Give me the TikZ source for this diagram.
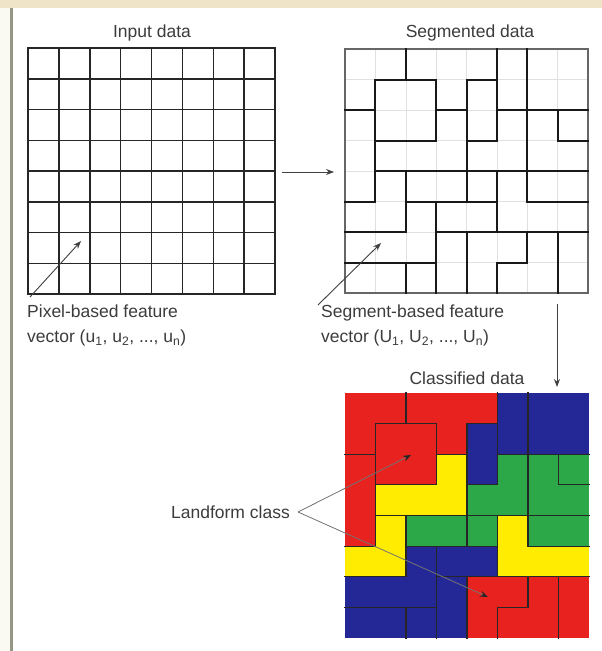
\documentclass[tikz,border=0pt]{standalone}
\usepackage{fontspec}
\setmainfont{Liberation Sans}
\usetikzlibrary{arrows.meta}
\definecolor{cR}{RGB}{232,34,30}
\definecolor{cB}{RGB}{36,40,150}
\definecolor{cG}{RGB}{44,168,72}
\definecolor{cY}{RGB}{255,236,0}
\definecolor{beige}{RGB}{239,228,199}
\definecolor{framegray}{RGB}{150,150,135}
\definecolor{cream}{RGB}{251,250,242}
\definecolor{txt}{RGB}{60,60,60}
\tikzset{
  lbl/.style={inner sep=0pt, text=txt, font=\fontsize{17.5}{25}\selectfont},
  gridline/.style={line width=1.5pt, draw=black!85, line cap=rect},
  segline/.style={line width=2pt, draw=black!90, line cap=rect},
  clsline/.style={line width=1.1pt, draw=black!85, line cap=rect},
  faint/.style={line width=0.5pt, draw=black!12},
  conn/.style={line width=0.9pt, draw=black!75, -{Stealth[length=8pt,width=6pt]}},
  leader/.style={line width=0.8pt, draw=black!55, -{Stealth[length=8pt,width=6pt,black!85]}},
}
\newcommand{\segmentlines}[1]{%
  \foreach \c/\a/\b in {2/0/1,1/1/5,3/1/3,4/1/5,5/0/3,6/0/5,7/2/3,2/4/6,3/5/8,5/4/6,4/6/8,6/6/7,5/7/8,7/6/8,2/7/8}
    {\draw[#1] (\c,\a) -- (\c,\b);}
  \foreach \r/\a/\b in {1/1/3,3/1/3,2/0/1,5/0/1,2/3/4,1/4/5,3/4/5,2/5/8,3/7/8,4/1/8,5/6/8,6/0/2,5/2/5,6/3/8,7/5/6,7/0/3}
    {\draw[#1] (\a,\r) -- (\b,\r);}
}
\begin{document}
\begin{tikzpicture}[x=1pt,y=-1pt]
\useasboundingbox (0,0) rectangle (602,651);
% frame
\fill[white] (0,0) rectangle (602,651);
\fill[cream] (0,7.5) rectangle (10,651);
\fill[beige] (0,0) rectangle (602,7.5);
\draw[framegray, line width=2.5pt] (11.5,7.5) -- (11.5,651);

% titles
\node[lbl] (tin) at (152,33) {Input data};
\node[lbl] (tseg) at (470,33) {Segmented data};
\node[lbl] (tcls) at (467,378) {Classified data};

% input grid
\begin{scope}[shift={(28pt,-48pt)}, x=30.875pt, y=-30.75pt]
  \foreach \i in {0,...,8} {
    \draw[gridline] (\i,0) -- (\i,8);
    \draw[gridline] (0,\i) -- (8,\i);
  }
\end{scope}

% segmented grid
\begin{scope}[shift={(345pt,-49pt)}, x=30.375pt, y=-30.5pt]
  \foreach \i in {1,...,7} {
    \draw[faint] (\i,0) -- (\i,8);
    \draw[faint] (0,\i) -- (8,\i);
  }
  \draw[line width=1.8pt, black!60] (0,0) rectangle (8,8);
  \segmentlines{segline}
\end{scope}

% classified grid
\begin{scope}[shift={(345pt,-393pt)}, x=30.5pt, y=-30.625pt]
  \foreach \row [count=\r from 0] in {
      {R,R,R,R,R,B,B,B},
      {R,R,R,R,B,B,B,B},
      {R,R,R,Y,B,G,G,G},
      {R,Y,Y,Y,G,G,G,G},
      {R,Y,G,G,G,Y,G,G},
      {Y,Y,B,B,B,Y,Y,Y},
      {B,B,B,B,R,R,R,R},
      {B,B,B,B,R,R,R,R}} {
    \foreach \col [count=\c from 0] in \row {
      \fill[c\col] (\c,\r) rectangle ++(1.01,1.01);
    }
  }
  \segmentlines{clsline}
\end{scope}

% feature labels
\node[lbl, anchor=west, align=left] (tpix) at (27,325.5)
  {Pixel-based feature\\vector (u\textsubscript{1}, u\textsubscript{2}, ..., u\textsubscript{n})};
\node[lbl, anchor=west, align=left] (tsegv) at (321,325.5)
  {Segment-based feature\\vector (U\textsubscript{1}, U\textsubscript{2}, ..., U\textsubscript{n})};
\node[lbl, anchor=east] (tland) at (290,512) {Landform class};

% connectors
\coordinate (h1) at (282,172); \coordinate (h2) at (334,172);
\coordinate (v1) at (557,304); \coordinate (v2) at (557,387);
\coordinate (p1) at (30,297);  \coordinate (p2) at (81,241);
\coordinate (s1) at (318,305); \coordinate (s2) at (381,243);
\coordinate (apex) at (298,512);
\coordinate (lf1) at (411,455); \coordinate (lf2) at (488,597);

\draw[conn] (h1) -- (h2);
\draw[conn] (v1) -- (v2);
\draw[conn] (p1) -- (p2);
\draw[conn] (s1) -- (s2);
\draw[leader] (apex) -- (lf1);
\draw[leader] (apex) -- (lf2);
\end{tikzpicture}
\end{document}
